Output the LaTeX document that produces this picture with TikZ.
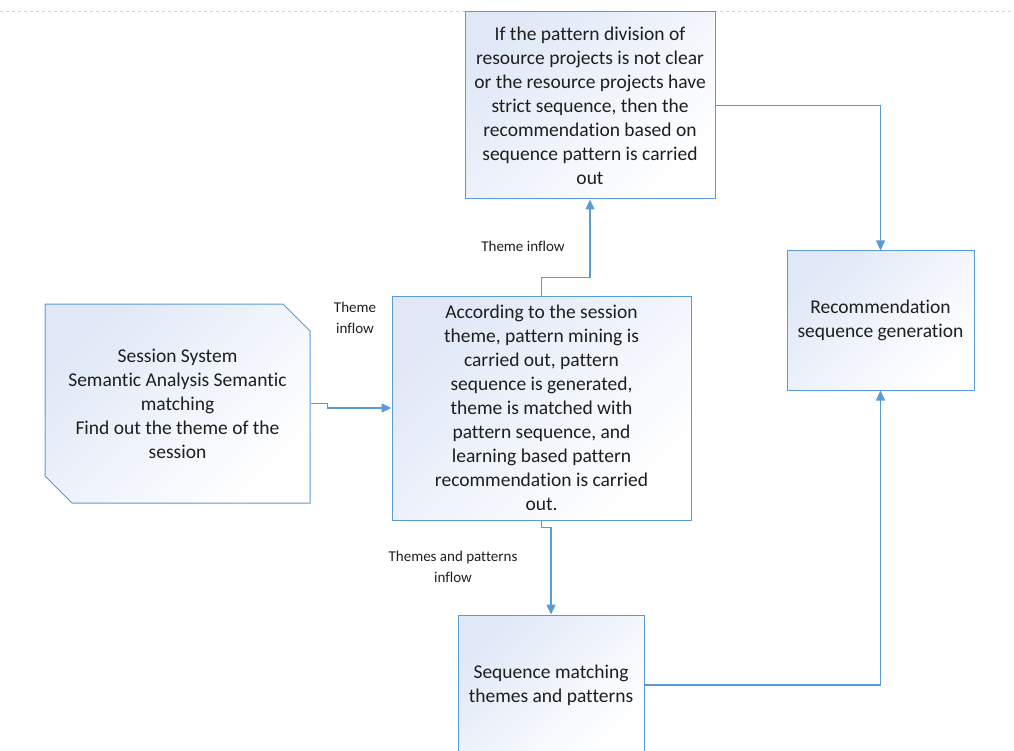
\documentclass[tikz,border=0pt]{standalone}
\usepackage{fontspec}
\setmainfont{Carlito}[Ligatures=NoCommon]
\usetikzlibrary{positioning,shapes.misc,arrows.meta}
\definecolor{lineblue}{RGB}{91,155,213}
\definecolor{shadeblue}{RGB}{224,232,247}
\definecolor{textgray}{RGB}{30,30,30}
\begin{document}
\begin{tikzpicture}[x=1pt,y=-1pt,
    box/.style = {draw=lineblue, line width=1pt, top color=shadeblue, bottom color=white,
      shading angle=45, align=center, text=textgray, inner sep=2pt,
      font=\fontsize{19.5}{24}\selectfont},
    cutbox/.style = {box, chamfered rectangle, chamfered rectangle xsep=13.5pt,
      chamfered rectangle ysep=13.5pt, chamfered rectangle corners={north east,south west}},
    lbl/.style = {align=center, text=textgray, font=\fontsize{15}{21}\selectfont},
    flow/.style = {draw=lineblue, line width=1.3pt, -{Triangle[length=10pt,width=9pt]}}]
        \useasboundingbox (0,0) rectangle (1014,751);
        \draw[gray!35, dashed, line width=1pt] (0,12) -- (1014,12);
        %
        \node[box, minimum width=299pt, minimum height=224pt] (pattern) at (541.5,408)
          {According to the session\\theme, pattern mining is\\carried out, pattern\\sequence is generated,\\theme is matched with\\pattern sequence, and\\learning based pattern\\recommendation is carried\\out.};
        \node[cutbox, minimum width=265pt, minimum height=199pt] (session) [left=81pt of pattern, yshift=4.5pt]
          {Session System\\Semantic Analysis Semantic\\matching\\Find out the theme of the\\session};
        \node[box, minimum width=250pt, minimum height=187pt] (sequence) [above=96pt of pattern, xshift=48.5pt]
          {If the pattern division of\\resource projects is not clear\\or the resource projects have\\strict sequence, then the\\recommendation based on\\sequence pattern is carried\\out};
        \node[box, minimum width=187pt, minimum height=139pt] (generate) [right=95pt of pattern, yshift=87.5pt]
          {Recommendation\\sequence generation};
        \node[box, minimum width=186pt, minimum height=140pt] (match) [below=94pt of pattern, xshift=9.5pt]
          {Sequence matching\\themes and patterns};
        %
        \node[lbl] (inflowa) at (523,246) {Theme inflow};
        \node[lbl] (inflowb) at (355,318) {Theme\\inflow};
        \node[lbl] (inflowc) at (453,567) {Themes and patterns\\inflow};
        %
        \draw[flow] (session.east) -- ++(17,0) |- (pattern.west);
        \draw[flow] (pattern.north) -- ++(0,-18) -| (sequence.south);
        \draw[flow] (pattern.south) -- ++(0,7) -| (match.north);
        \draw[flow] (sequence.east) -| (generate.north);
        \draw[flow] (match.east) -| (generate.south);
      \end{tikzpicture}
\end{document}
